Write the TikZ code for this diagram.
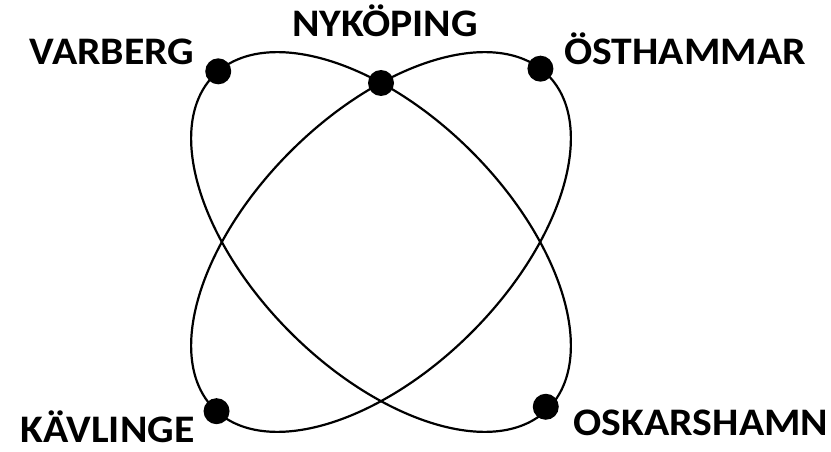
\documentclass[tikz,border=0pt]{standalone}
\usepackage{fontspec}
\setmainfont{Carlito}
\begin{document}
\begin{tikzpicture}[x=1pt,y=1pt,
  orbit/.style={line width=2.2pt,black},
  city/.style={circle,fill=black,inner sep=0pt,minimum size=26pt},
  lbl/.style={font=\bfseries\fontsize{39}{39}\selectfont,inner sep=0pt,anchor=base,xscale=1.07,transform shape}]
\useasboundingbox (0,0) rectangle (831,451);
\coordinate (c) at (381,209);
% ellipse 1: top-left to bottom-right
\draw[orbit,rotate around={135:(c)}] (c) ellipse [x radius=236,y radius=128];
% ellipse 2: bottom-left to top-right
\draw[orbit,rotate around={45:(c)}] (c) ellipse [x radius=236,y radius=128];
\begin{scope}[shift={(c)},rotate=135]
  \node[city] (varberg) at (-2.5:236 and 128) {};
  \node[city] (oskarshamn) at (180:233 and 128) {};
\end{scope}
\begin{scope}[shift={(c)},rotate=45]
  \node[city] (osthammar) at (4.4:236 and 128) {};
  \node[city] (kavlinge) at (181.5:236 and 128) {};
\end{scope}
\node[city] (nykoping) at (381,368) {};
\node[lbl] (tvarberg) at (112,386) {VARBERG};
\node[lbl] (tnykoping) at (385,414) {NYKÖPING};
\node[lbl] (tosthammar) at (685,386) {ÖSTHAMMAR};
\node[lbl] (tkavlinge) at (107.5,8.5) {KÄVLINGE};
\node[lbl] (toskarshamn) at (701,16) {OSKARSHAMN};
\end{tikzpicture}
\end{document}
